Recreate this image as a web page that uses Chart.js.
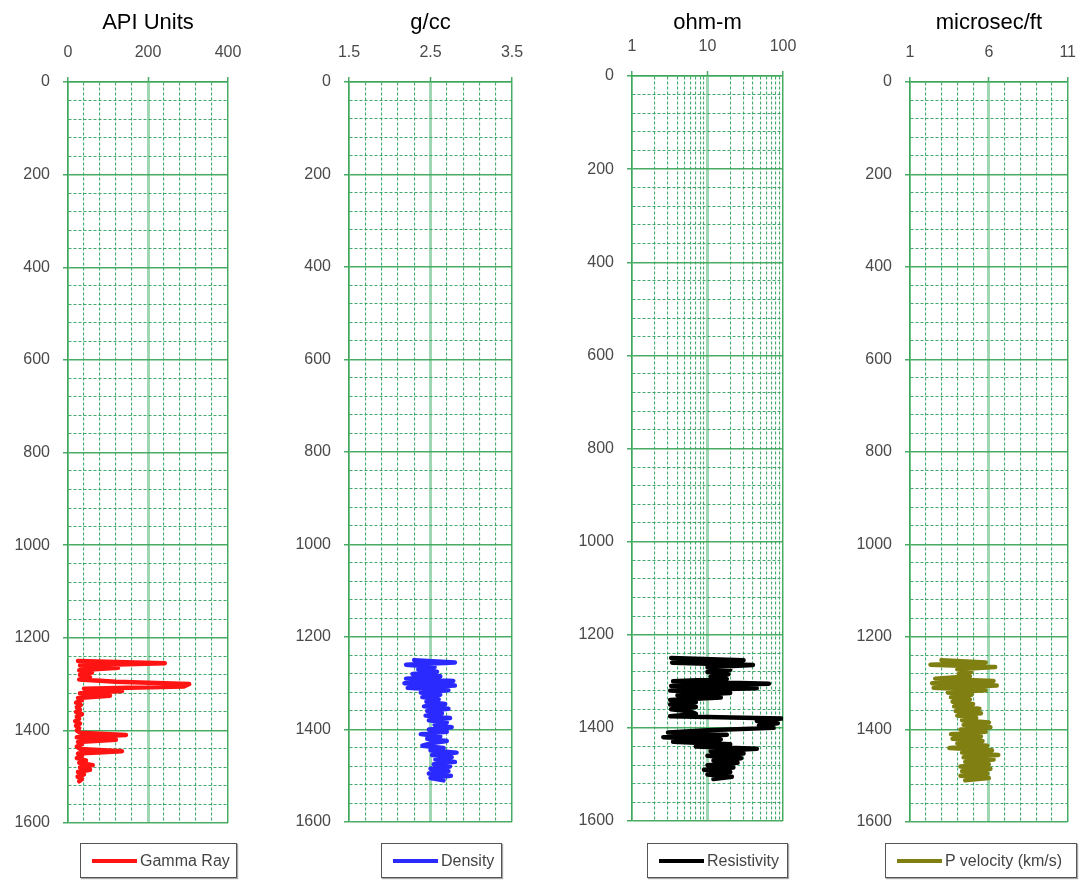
<!DOCTYPE html>
<html>
<head>
<meta charset="utf-8">
<script src="https://cdn.jsdelivr.net/npm/chart.js@4.4.1/dist/chart.umd.min.js"></script>
<style>
  html, body { margin: 0; padding: 0; background: #fff; }
  body { width: 1091px; height: 882px; position: relative; overflow: hidden;
         font-family: "Liberation Sans", Arial, sans-serif; }
  canvas { position: absolute; top: 0; }
  .leg { position: absolute; top: 843px; height: 33px; border: 1.5px solid #555;
         box-shadow: 1px 1px 1px rgba(0,0,0,0.35); display: flex; align-items: center;
         box-sizing: content-box; background: #fff; }
  .leg .ln { width: 45px; height: 4px; margin-left: 11px; margin-right: 3px; }
  .leg .tx { font-size: 16px; color: #444; white-space: nowrap; }
</style>
</head>
<body>
<canvas id="c1"></canvas>
<canvas id="c2"></canvas>
<canvas id="c3"></canvas>
<canvas id="c4"></canvas>
<div class="leg" id="l1"></div>
<div class="leg" id="l2"></div>
<div class="leg" id="l3"></div>
<div class="leg" id="l4"></div>
<script>
// ---------------- DATA ----------------
const depths = [1250,1255,1260,1265,1270,1275,1280,1285,1290,1295,
                1300,1305,1310,1315,1320,1325,1330,1335,1340,1345,
                1350,1355,1360,1365,1370,1375,1380,1385,1390,1395,
                1400,1405,1410,1415,1420,1425,1430,1435,1440,1445,
                1450,1455,1460,1465,1470,1475,1480,1485,1490,1495,
                1500,1505,1510];

const gammaRay = [25,242,30,125,28,60,30,55,28,120,
                  303,290,40,135,30,105,25,35,20,32,
                  22,30,20,35,22,28,18,30,20,28,
                  22,30,145,22,120,25,35,22,30,135,
                  25,35,22,45,28,62,30,55,25,40,
                  24,35,28];

const density = [2.30,2.80,2.20,2.55,2.35,2.58,2.28,2.62,2.20,2.78,
                 2.18,2.80,2.22,2.72,2.38,2.62,2.40,2.60,2.45,2.68,
                 2.42,2.72,2.46,2.64,2.44,2.74,2.48,2.70,2.55,2.76,
                 2.48,2.70,2.38,2.62,2.46,2.70,2.50,2.40,2.66,2.50,
                 2.82,2.52,2.76,2.56,2.80,2.54,2.74,2.50,2.72,2.48,
                 2.75,2.50,2.66];

const resistivity = [3.3,30,3.4,40,10,20,10,19,11,18,
                     3.5,65,3.3,45,3.2,20,4,15,3.2,7,
                     3.2,7,3.3,6,7,3.2,95,45,85,48,
                     75,10,3.0,18,2.6,15,3.5,20,7,45,
                     11,30,10,28,12,25,10,22,9,20,
                     10,21,12];

const pVelocity = [3.0,5.8,2.3,6.4,4.0,4.9,4.1,4.8,2.6,6.3,
                   2.4,6.5,2.5,5.8,3.4,4.9,3.6,4.8,3.7,5.0,
                   3.8,5.4,3.9,5.5,4.0,5.2,4.3,6.0,4.4,6.1,
                   4.2,5.8,3.6,5.5,3.7,5.6,4.0,5.9,3.5,6.2,
                   4.3,6.6,4.4,6.3,4.5,6.0,4.2,6.1,4.3,5.9,
                   4.2,6.0,4.5];

// tick labels / axis ranges
const depthRange = [0, 1600];
const depthMajorTicks = [0,200,400,600,800,1000,1200,1400,1600];
const grTicks = [0, 200, 400];
const denTicks = [1.5, 2.5, 3.5];
const resTicks = [1, 10, 100];
const resMinorTicks = [1,2,3,4,5,6,7,8,9,10,20,30,40,50,60,70,80,90,100];
const pvTicks = [1, 6, 11];

const axisTitles = ['API Units', 'g/cc', 'ohm-m', 'microsec/ft'];
const seriesNames = ['Gamma Ray', 'Density', 'Resistivity', 'P velocity (km/s)'];
const seriesColors = ['#ff1414', '#2a2aff', '#000000', '#7f7f12'];

// ---------------- HELPERS ----------------
Chart.defaults.font.family = '"Liberation Sans", Arial, sans-serif';

const G_MAJOR = 'rgba(62,168,92,0.95)';
const G_MID = 'rgba(95,188,128,0.6)';
const G_MINOR = 'rgba(48,160,92,0.9)';

function near(a, b) { return Math.abs(a - b) < 1e-6; }
function isIn(list, v) { return list.some(t => near(t, v)); }

function makeTrack(id, cfg) {
  const cv = document.getElementById(id);
  const yAxisW = 68;
  const left = cfg.plotLeft - yAxisW;
  const width = cfg.canvasRight - left;
  cv.width = width; cv.height = 882;
  cv.style.left = left + 'px';
  cv.style.width = width + 'px'; cv.style.height = '882px';

  const pts = depths.map((d, i) => ({ x: cfg.values[i], y: d }));
  const xMajor = cfg.xMajor;
  const xEdge = [cfg.xMin, cfg.xMax];

  const xScale = {
    type: cfg.log ? 'logarithmic' : 'linear',
    position: 'top',
    min: cfg.xMin, max: cfg.xMax,
    afterFit(s) { s.height = cfg.plotTop; },
    title: { display: true, text: cfg.title, color: '#000',
             font: { size: 22 }, padding: { top: 10, bottom: 0 } },
    ticks: {
      autoSkip: false, maxRotation: 0, color: '#4a4a4a', font: { size: 16 }, padding: 15,
      callback(v) { return isIn(xMajor, v) ? cfg.fmt(v) : ''; }
    },
    grid: {
      color: c => isIn(xEdge, c.tick.value) ? G_MAJOR : (isIn(xMajor, c.tick.value) ? G_MID : G_MINOR),
      lineWidth: c => isIn(xEdge, c.tick.value) ? 1.5 : (isIn(xMajor, c.tick.value) ? 3 : 1.1),
      tickLength: 5,
      tickWidth: 1.5,
      tickColor: c => isIn(xMajor, c.tick.value) ? G_MAJOR : 'rgba(0,0,0,0)'
    },
    border: { display: true, color: G_MAJOR, width: 1.5,
              dash: c => (c.tick && isIn(xMajor, c.tick.value)) ? [] : [3, 2] }
  };
  if (cfg.log) {
    xScale.afterBuildTicks = s => { s.ticks = resMinorTicks.map(v => ({ value: v, major: isIn(xMajor, v) })); };
  } else {
    xScale.ticks.stepSize = cfg.step;
  }

  new Chart(cv, {
    type: 'scatter',
    data: { datasets: [{
      label: cfg.name, data: pts, showLine: true, pointRadius: 0,
      borderColor: cfg.color, backgroundColor: cfg.color, borderWidth: 4.5,
      borderJoinStyle: 'round', borderCapStyle: 'round', tension: 0
    }]},
    options: {
      responsive: false, animation: false, devicePixelRatio: 1,
      layout: { padding: { left: 0, top: 0, right: cfg.canvasRight - cfg.plotRight,
                           bottom: 882 - cfg.plotBottom } },
      plugins: { legend: { display: false }, tooltip: { enabled: false }, title: { display: false } },
      scales: {
        x: xScale,
        y: {
          type: 'linear', reverse: true, min: depthRange[0], max: depthRange[1],
          afterFit(s) { s.width = yAxisW; },
          ticks: { stepSize: 40, autoSkip: false, color: '#4a4a4a', font: { size: 16 }, padding: 13,
                   callback(v) { return isIn(depthMajorTicks, v) ? String(v) : ''; } },
          grid: {
            color: c => isIn(depthMajorTicks, c.tick.value) ? G_MAJOR : G_MINOR,
            lineWidth: c => isIn(depthMajorTicks, c.tick.value) ? 1.5 : 1.1,
            tickLength: 5,
            tickWidth: 1.5,
            tickColor: c => isIn(depthMajorTicks, c.tick.value) ? G_MAJOR : 'rgba(0,0,0,0)'
          },
          border: { display: true, color: G_MAJOR, width: 1.5,
                    dash: c => (c.tick && isIn(depthMajorTicks, c.tick.value)) ? [] : [3, 2] }
        }
      }
    }
  });
}

makeTrack('c1', { plotLeft: 68, plotRight: 228, plotTop: 82, plotBottom: 823, canvasRight: 262,
  xMin: 0, xMax: 400, step: 40, xMajor: grTicks, fmt: v => String(v),
  values: gammaRay, title: axisTitles[0], name: seriesNames[0], color: seriesColors[0] });
makeTrack('c2', { plotLeft: 349, plotRight: 512, plotTop: 82, plotBottom: 822, canvasRight: 545,
  xMin: 1.5, xMax: 3.5, step: 0.2, xMajor: denTicks, fmt: v => v.toFixed(1),
  values: density, title: axisTitles[1], name: seriesNames[1], color: seriesColors[1] });
makeTrack('c3', { plotLeft: 632, plotRight: 783, plotTop: 76, plotBottom: 821, canvasRight: 815,
  log: true, xMin: 1, xMax: 100, xMajor: resTicks, fmt: v => String(v),
  values: resistivity, title: axisTitles[2], name: seriesNames[2], color: seriesColors[2] });
makeTrack('c4', { plotLeft: 910, plotRight: 1078, plotTop: 82, plotBottom: 822, canvasRight: 1091,
  xMin: 1, xMax: 11, step: 1, xMajor: pvTicks, fmt: v => String(v),
  values: pVelocity, title: axisTitles[3], name: seriesNames[3], color: seriesColors[3] });

// ---------------- LEGENDS ----------------
const legendBoxes = [[80, 155], [381, 119], [647, 139], [885, 190]];
['l1','l2','l3','l4'].forEach((id, i) => {
  const el = document.getElementById(id);
  el.style.left = legendBoxes[i][0] + 'px';
  el.style.width = legendBoxes[i][1] + 'px';
  const ln = document.createElement('span'); ln.className = 'ln'; ln.style.background = seriesColors[i];
  const tx = document.createElement('span'); tx.className = 'tx'; tx.textContent = seriesNames[i];
  el.appendChild(ln); el.appendChild(tx);
});
</script>
</body>
</html>
